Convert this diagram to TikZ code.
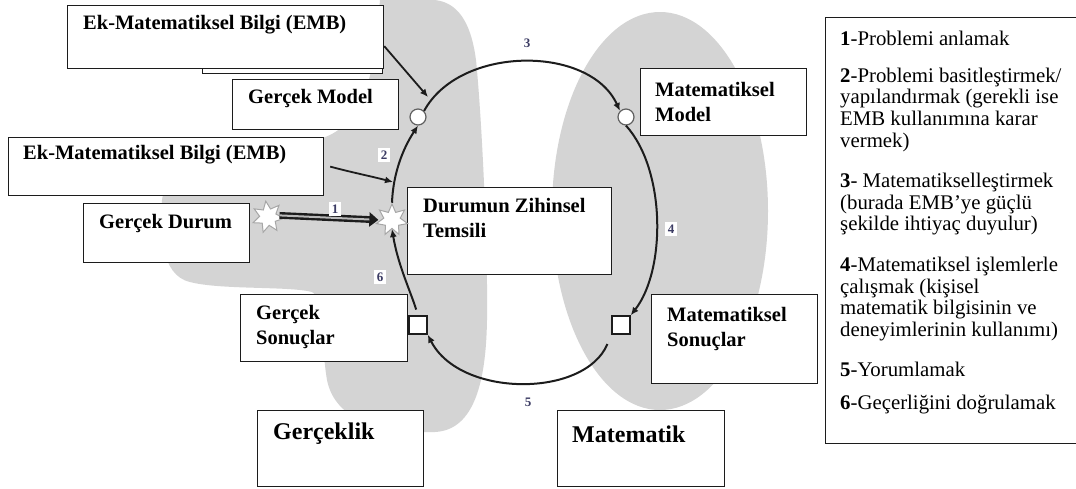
\documentclass[tikz,border=0pt]{standalone}
\usepackage{fontspec}
\setmainfont{Liberation Serif}
\usetikzlibrary{arrows.meta,shapes.geometric}
\definecolor{blob}{RGB}{212,212,212}
\definecolor{ink}{RGB}{28,28,28}
\definecolor{numink}{RGB}{60,60,100}
\tikzset{
  box/.style={draw=ink, line width=1.2pt, fill=white, rectangle, inner sep=0pt, anchor=north west},
  boxtext/.style={font=\bfseries\fontsize{20.5}{25}\selectfont, align=left, anchor=west, inner sep=0pt, text=black},
  bigtext/.style={font=\bfseries\fontsize{24}{28}\selectfont, anchor=west, inner sep=0pt, text=black},
  flow/.style={draw=ink, line width=2pt, -{Latex[length=8pt,width=7pt]}},
  burst/.style={star, star points=7, star point ratio=1.9, minimum size=32pt, inner sep=0pt, draw=gray!70, line width=1pt, fill=white},
  dot/.style={circle, minimum size=16pt, inner sep=0pt, draw=ink!70, line width=1.2pt, fill=white},
  sq/.style={rectangle, minimum size=18pt, inner sep=0pt, draw=ink, line width=1.5pt, fill=white},
  num/.style={font=\bfseries\fontsize{13}{14}\selectfont, text=numink, fill=white, inner sep=3pt}
}
\begin{document}
\begin{tikzpicture}[x=1pt,y=1pt]
\useasboundingbox (0,0) rectangle (1076,-488);
\fill[white] (0,0) rectangle (1076,-488);

% grey regions: reality (left) and mathematics (right)
\fill[blob] (380,0) -- (435,0) .. controls (462,-3) and (472,-30) .. (476,-60)
  .. controls (482,-120) and (488,-250) .. (487,-320)
  .. controls (486,-380) and (475,-430) .. (435,-432)
  .. controls (380,-434) and (335,-420) .. (327,-380)
  .. controls (321,-345) and (324,-298) .. (312,-292)
  .. controls (290,-286) and (220,-290) .. (190,-282)
  .. controls (160,-275) and (160,-230) .. (162,-200)
  .. controls (165,-160) and (300,-150) .. (330,-135)
  .. controls (370,-115) and (375,-60) .. (380,0) -- cycle;
\fill[blob] (660,-211) ellipse [x radius=108, y radius=199];

% boxes
\node[box, minimum width=180pt, minimum height=63pt] (embshadow) at (202,-10) {};
\node[box, minimum width=316pt, minimum height=63pt] (emb1) at (67,-5) {};
\node[box, minimum width=166pt, minimum height=50pt] (gmodel) at (232,-79) {};
\node[box, minimum width=315pt, minimum height=58pt] (emb2) at (8,-137) {};
\node[box, minimum width=166pt, minimum height=59pt] (gdurum) at (83,-203) {};
\node[box, minimum width=204pt, minimum height=87pt] (dzt) at (407,-187) {};
\node[box, minimum width=166pt, minimum height=67pt] (mmodel) at (640,-68) {};
\node[box, minimum width=167pt, minimum height=67pt] (gsonuc) at (240,-294) {};
\node[box, minimum width=166pt, minimum height=89pt] (msonuc) at (651,-294) {};
\node[box, minimum width=166pt, minimum height=76pt] (gercek) at (257,-410) {};
\node[box, minimum width=167pt, minimum height=76pt] (matem) at (557,-410) {};
\node[box, minimum width=260pt, minimum height=426pt] (legend) at (825,-17) {};

% box texts
\node[boxtext] (t1) at (83,-25) {Ek-Matematiksel Bilgi (EMB)};
\node[boxtext] (t2) at (248,-98) {Gerçek Model};
\node[boxtext] (t3) at (23,-155) {Ek-Matematiksel Bilgi (EMB)};
\node[boxtext] (t4) at (99,-223) {Gerçek Durum};
\node[boxtext] (t5) at (423,-218) {Durumun Zihinsel\\Temsili};
\node[boxtext] (t6) at (655,-102) {Matematiksel\\Model};
\node[boxtext] (t7) at (256,-327) {Gerçek\\Sonuçlar};
\node[boxtext] (t8) at (667,-329) {Matematiksel\\Sonuçlar};
\node[bigtext] (t9) at (273,-434) {Gerçeklik};
\node[bigtext] (t10) at (572,-434) {Matematik};

% legend
\node[anchor=north west, inner sep=0pt, align=left, font=\fontsize{20.8}{21.6}\selectfont] (leg) at (840,-31) {%
\textbf{1}-Problemi anlamak\\[15pt]
\textbf{2}-Problemi basitleştirmek/\\
yapılandırmak (gerekli ise\\
EMB kullanımına karar\\
vermek)\\[19pt]
\textbf{3}- Matematikselleştirmek\\
(burada EMB’ye güçlü\\
şekilde ihtiyaç duyulur)\\[19pt]
\textbf{4}-Matematiksel işlemlerle\\
çalışmak (kişisel\\
matematik bilgisinin ve\\
deneyimlerinin kullanımı)\\[19pt]
\textbf{5}-Yorumlamak\\[11pt]
\textbf{6}-Geçerliğini doğrulamak};

% markers on the cycle
\node[burst, rotate=8] (s1) at (268,-217) {};
\node[burst] (s2) at (392,-220) {};
\node[dot] (c1) at (418,-117) {};
\node[dot] (c2) at (626,-117) {};
\node[sq] (q1) at (418,-325) {};
\node[sq] (q2) at (621,-325) {};
\coordinate (hitA) at (428,-97);
\coordinate (hitB) at (393,-182);

% connectors
\draw[draw=ink, line width=2.4pt, double=gray!55, double distance=2pt, -{Triangle[length=9pt,width=14pt]}, shorten >=2pt]
  (s1.east) -- (s2.west);
\draw[flow] (s2.north) .. controls (393,-175) and (402,-150) .. (c1.south);
\draw[flow] (c1.north east) .. controls (460,-45) and (590,-45) .. (c2.north west);
\draw[flow] (c2.south) .. controls (666,-170) and (666,-270) .. (q2.north east);
\draw[flow, shorten <=10pt] (q2.south west) .. controls (585,-398) and (460,-398) .. (q1.south east);
\draw[flow, shorten <=6pt] (q1.north) .. controls (410,-290) and (398,-265) .. (s2.south);
\draw[flow, line width=1.8pt] ([yshift=-9pt]emb1.east) -- (hitA);
\draw[flow, line width=1.8pt] ([xshift=6pt]emb2.east) .. controls (350,-172) and (370,-176) .. (hitB);

% step numbers
\node[num] (n1) at (335,-209) {1};
\node[num] (n2) at (384,-155) {2};
\node[num] (n3) at (527,-43) {3};
\node[num] (n4) at (671,-229) {4};
\node[num] (n5) at (528,-402) {5};
\node[num] (n6) at (380,-277) {6};
\end{tikzpicture}
\end{document}
